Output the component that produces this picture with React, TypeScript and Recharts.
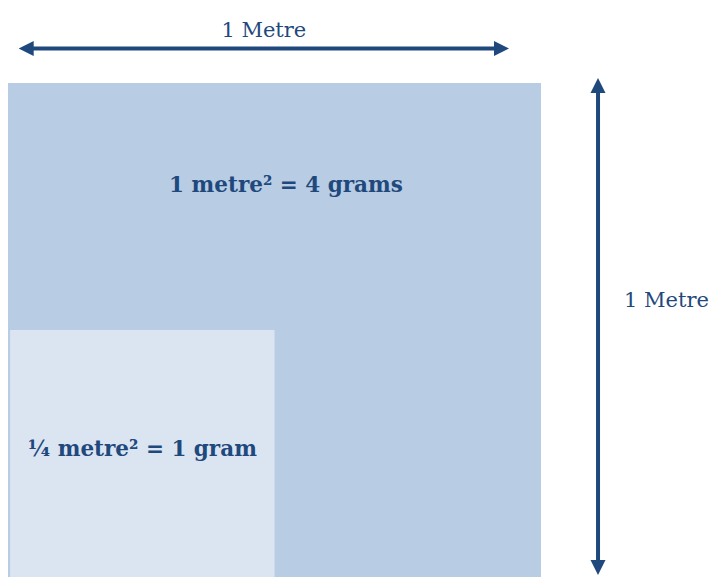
import React from "react";
import { ComposedChart, XAxis, YAxis, ReferenceArea, ReferenceLine, Label } from "recharts";

// squares, side length in metres
const squareLabels = ["1 metre\u00b2 = 4 grams", "\u00bc metre\u00b2 = 1 gram"];
const squareSides = [1, 0.5];
const squareFills = ["#B8CCE4", "#DBE5F1"];

// dimension arrows
const arrowLabels = ["1 Metre", "1 Metre"];
const arrowSpans = [
  { x1: 0.02, x2: 0.94, y1: 1.07, y2: 1.07 },
  { x1: 1.107, x2: 1.107, y1: 0.004, y2: 1.01 },
];

const DARK = "#1F497D";
const SERIF = "'DejaVu Serif', serif";

function Arrow(props: any) {
  const { x1, y1, x2, y2 } = props;
  const dx = x2 - x1;
  const dy = y2 - y1;
  const len = Math.hypot(dx, dy) || 1;
  const ux = dx / len;
  const uy = dy / len;
  const px = -uy;
  const py = ux;
  const head = 15;
  const half = 7.5;
  const tri = (tx: number, ty: number, dir: number) => {
    const bx = tx - dir * ux * head;
    const by = ty - dir * uy * head;
    return `${tx},${ty} ${bx + px * half},${by + py * half} ${bx - px * half},${by - py * half}`;
  };
  return (
    <g>
      <line
        x1={x1 + ux * (head - 2)}
        y1={y1 + uy * (head - 2)}
        x2={x2 - ux * (head - 2)}
        y2={y2 - uy * (head - 2)}
        stroke={DARK}
        strokeWidth={4}
      />
      <polygon points={tri(x1, y1, -1)} fill={DARK} />
      <polygon points={tri(x2, y2, 1)} fill={DARK} />
    </g>
  );
}

export default function App() {
  return (
    <div style={{ position: "absolute", left: 0, top: 0, width: 714, height: 577, background: "#fff" }}>
      <ComposedChart
        width={714}
        height={577}
        data={[{ x: 0, y: 0 }, { x: 1, y: 1 }]}
        margin={{ top: 83, right: 173, left: 8, bottom: 0 }}
      >
        <XAxis type="number" dataKey="x" domain={[0, 1]} hide allowDataOverflow />
        <YAxis type="number" dataKey="y" domain={[0, 1]} hide allowDataOverflow />

        {/* big square */}
        <ReferenceArea
          x1={0}
          x2={squareSides[0]}
          y1={0}
          y2={squareSides[0]}
          fill={squareFills[0]}
          fillOpacity={1}
          stroke="none"
          ifOverflow="visible"
        >
          <Label
            content={(p: any) => {
              const vb = p.viewBox;
              return (
                <text
                  x={vb.x + 278}
                  y={vb.y + 109}
                  textAnchor="middle"
                  fill={DARK}
                  fontFamily={SERIF}
                  fontWeight="bold"
                  fontSize={21.5}
                >
                  {squareLabels[0]}
                </text>
              );
            }}
          />
        </ReferenceArea>

        {/* small square */}
        <ReferenceArea
          x1={0.004}
          x2={squareSides[1]}
          y1={0}
          y2={squareSides[1]}
          fill={squareFills[1]}
          fillOpacity={1}
          stroke="none"
          ifOverflow="visible"
        >
          <Label
            content={(p: any) => {
              const vb = p.viewBox;
              return (
                <text
                  x={vb.x + vb.width / 2}
                  y={vb.y + 126}
                  textAnchor="middle"
                  fill={DARK}
                  fontFamily={SERIF}
                  fontWeight="bold"
                  fontSize={21.5}
                >
                  {squareLabels[1]}
                </text>
              );
            }}
          />
        </ReferenceArea>

        {/* horizontal arrow */}
        <ReferenceLine
          segment={[
            { x: arrowSpans[0].x1, y: arrowSpans[0].y1 },
            { x: arrowSpans[0].x2, y: arrowSpans[0].y2 },
          ]}
          ifOverflow="visible"
          shape={<Arrow />}
        >
          <Label
            content={(p: any) => {
              const vb = p.viewBox;
              return (
                <text
                  x={vb.x + vb.width / 2}
                  y={vb.y - 11}
                  textAnchor="middle"
                  fill={DARK}
                  fontFamily={SERIF}
                  fontSize={21}
                >
                  {arrowLabels[0]}
                </text>
              );
            }}
          />
        </ReferenceLine>

        {/* vertical arrow */}
        <ReferenceLine
          segment={[
            { x: arrowSpans[1].x1, y: arrowSpans[1].y1 },
            { x: arrowSpans[1].x2, y: arrowSpans[1].y2 },
          ]}
          ifOverflow="visible"
          shape={<Arrow />}
        >
          <Label
            content={(p: any) => {
              const vb = p.viewBox;
              return (
                <text
                  x={vb.x + 26}
                  y={vb.y + 229}
                  textAnchor="start"
                  fill={DARK}
                  fontFamily={SERIF}
                  fontSize={21}
                >
                  {arrowLabels[1]}
                </text>
              );
            }}
          />
        </ReferenceLine>
      </ComposedChart>
    </div>
  );
}
